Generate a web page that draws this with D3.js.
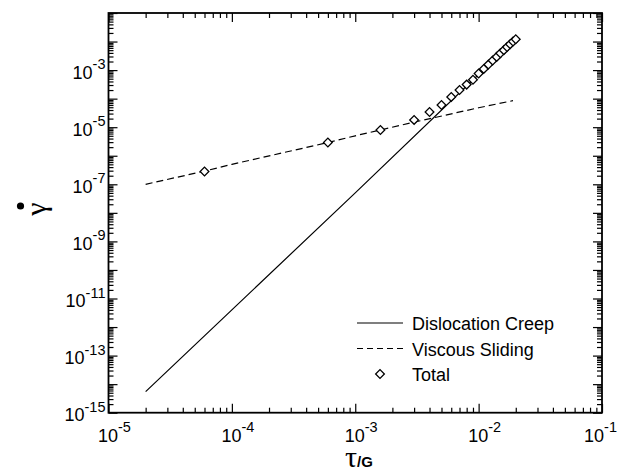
<!DOCTYPE html>
<html lang="en">
<head>
<meta charset="utf-8">
<script src="https://cdnjs.cloudflare.com/ajax/libs/d3/7.8.5/d3.min.js"></script>
<style>
  body { margin: 0; background: #fff; }
  svg { display: block; }
</style>
</head>
<body>
<script>
// data (tau/G vs shear strain rate)
var creepTau  = [2e-5, 1e-4, 1e-3, 1e-2, 2e-2]
var creepRate = [5.5e-15, 4e-12, 5e-8, 7e-4, 1.2e-2]

var slideTau  = [2e-5, 6e-5, 1e-4, 6e-4, 1e-3, 1.6e-3, 3e-3, 1e-2, 1.9e-2]
var slideRate = [1e-7, 2.9e-7, 5e-7, 2.9e-6, 5e-6, 8e-6, 1.5e-5, 4.8e-5, 8.5e-5]

var totalTau  = [6e-5, 6e-4, 1.6e-3, 3e-3, 4e-3, 5e-3, 6e-3, 7e-3, 8e-3, 9e-3, 1e-2,
                 1.1e-2, 1.2e-2, 1.3e-2, 1.4e-2, 1.5e-2, 1.6e-2, 1.7e-2, 1.8e-2, 1.9e-2, 2e-2]
var totalRate = [2.8e-7, 2.9e-6, 8e-6, 1.8e-5, 3.4e-5, 6e-5, 1.15e-4, 2e-4, 3.1e-4, 4.6e-4, 7.6e-4,
                 1.1e-3, 1.56e-3, 2.16e-3, 2.9e-3, 3.9e-3, 5e-3, 6.4e-3, 8.1e-3, 1e-2, 1.2e-2]

var xLabelExp = [-5, -4, -3, -2, -1]
var yLabelExp = [-3, -5, -7, -9, -11, -13, -15]
var legendNames = ["Dislocation Creep", "Viscous Sliding", "Total"]

var width = 619
var height = 475
var plotL = 108.5, plotR = 602, plotT = 13, plotB = 412.7
var font = "Liberation Sans, Arial, Helvetica, sans-serif"

var svg = d3.select("body").append("svg")
        .attr("width", width)
        .attr("height", height)
        .attr("font-family", font)

var x = d3.scaleLog().domain([1e-5, 1e-1]).range([plotL, plotR])
var y = d3.scaleLog().domain([1e-15, 1e-1]).range([plotB, plotT])

// major (decades) and minor (2..9) tick values
function decadeTicks(lo, hi) {
        var major = [], minor = []
        for (var e = lo; e <= hi; e++) {
                major.push(Math.pow(10, e))
                if (e < hi) for (var m = 2; m <= 9; m++) minor.push(m * Math.pow(10, e))
        }
        return {major: major, minor: minor}
}
var xt = decadeTicks(-5, -1)
var yt = decadeTicks(-15, -1)

var axesG = svg.append("g").attr("class", "axes")
var specs = [
        {make: () => d3.axisBottom(x), t: xt, tr: `translate(0,${plotB})`},
        {make: () => d3.axisTop(x), t: xt, tr: `translate(0,${plotT})`},
        {make: () => d3.axisLeft(y), t: yt, tr: `translate(${plotL},0)`},
        {make: () => d3.axisRight(y), t: yt, tr: `translate(${plotR},0)`}
]
specs.forEach(s => {
        // ticks point inward, so negative size
        axesG.append("g").attr("transform", s.tr)
                .call(s.make().tickValues(s.t.major).tickSize(-9).tickFormat(""))
        axesG.append("g").attr("transform", s.tr)
                .call(s.make().tickValues(s.t.minor).tickSize(-5).tickFormat(""))
})
axesG.selectAll(".domain").remove()
axesG.selectAll(".tick line").attr("stroke", "#000").attr("stroke-width", 1.2)

// frame
svg.append("rect")
        .attr("x", plotL).attr("y", plotT)
        .attr("width", plotR - plotL).attr("height", plotB - plotT)
        .attr("fill", "none").attr("stroke", "#000").attr("stroke-width", 1.8)

// tick labels with superscripts
var xl = svg.append("g").selectAll("text")
        .data(xLabelExp).join("text")
        .attr("x", d => x(Math.pow(10, d)) - 10.5)
        .attr("y", 441.5)
        .attr("font-size", 18)
xl.append("tspan").text("10")
xl.append("tspan").attr("dy", -10).attr("font-size", 14.5).text(d => d)
// keep the last label inside the page
xl.each(function() {
        var b = this.getBBox()
        if (b.x + b.width > width - 2) d3.select(this).attr("x", width - 2 - b.width)
})

var yl = svg.append("g").selectAll("text")
        .data(yLabelExp).join("text")
        .attr("x", 105.5)
        .attr("y", d => y(Math.pow(10, d)) + 8.5)
        .attr("text-anchor", "end")
        .attr("font-size", 18)
yl.append("tspan").text("10")
yl.append("tspan").attr("dy", -9.5).attr("font-size", 14.5).text(d => d)

// axis titles
var xTitle = svg.append("text")
        .attr("x", 345)
        .attr("y", 467)
xTitle.append("tspan").attr("font-family", "Liberation Serif, Times New Roman, serif")
        .attr("font-size", 30).text("τ")
xTitle.append("tspan").attr("font-weight", "bold").attr("font-size", 15).text("/G")

svg.append("circle").attr("cx", 20.5).attr("cy", 206).attr("r", 3.6).attr("fill", "#000")
svg.append("text")
        .attr("transform", "translate(46,209) rotate(-90)")
        .attr("text-anchor", "middle")
        .attr("font-family", "Liberation Serif, Times New Roman, serif")
        .attr("font-size", 30)
        .text("γ")

// series
var line = d3.line().x(d => x(d[0])).y(d => y(d[1]))
var plot = svg.append("g").attr("fill", "none").attr("stroke", "#000")

plot.append("path")
        .datum(d3.zip(creepTau, creepRate))
        .attr("stroke-width", 1.2)
        .attr("d", line)

plot.append("path")
        .datum(d3.zip(slideTau, slideRate))
        .attr("stroke-width", 1.2)
        .attr("stroke-dasharray", "7,4")
        .attr("d", line)

var diamond = d3.symbol(d3.symbolSquare, 38)
svg.append("g")
        .selectAll("path")
        .data(d3.zip(totalTau, totalRate))
        .join("path")
        .attr("transform", d => `translate(${x(d[0])},${y(d[1])}) rotate(45)`)
        .attr("d", diamond)
        .attr("fill", "#fff")
        .attr("stroke", "#000")
        .attr("stroke-width", 1.3)

// legend
var rows = [323, 348.5, 374]
var lg = svg.append("g")
lg.append("line").attr("x1", 357).attr("x2", 403).attr("y1", rows[0]).attr("y2", rows[0])
        .attr("stroke", "#000").attr("stroke-width", 1.2)
lg.append("line").attr("x1", 357).attr("x2", 403).attr("y1", rows[1]).attr("y2", rows[1])
        .attr("stroke", "#000").attr("stroke-width", 1.2).attr("stroke-dasharray", "6,4")
lg.append("path")
        .attr("transform", `translate(380,${rows[2]}) rotate(45)`)
        .attr("d", diamond)
        .attr("fill", "#fff").attr("stroke", "#000").attr("stroke-width", 1.3)
lg.selectAll("text").data(legendNames).join("text")
        .attr("x", 412)
        .attr("y", (d, i) => rows[i] + 7)
        .attr("font-size", 18)
        .text(d => d)
</script>
</body>
</html>
